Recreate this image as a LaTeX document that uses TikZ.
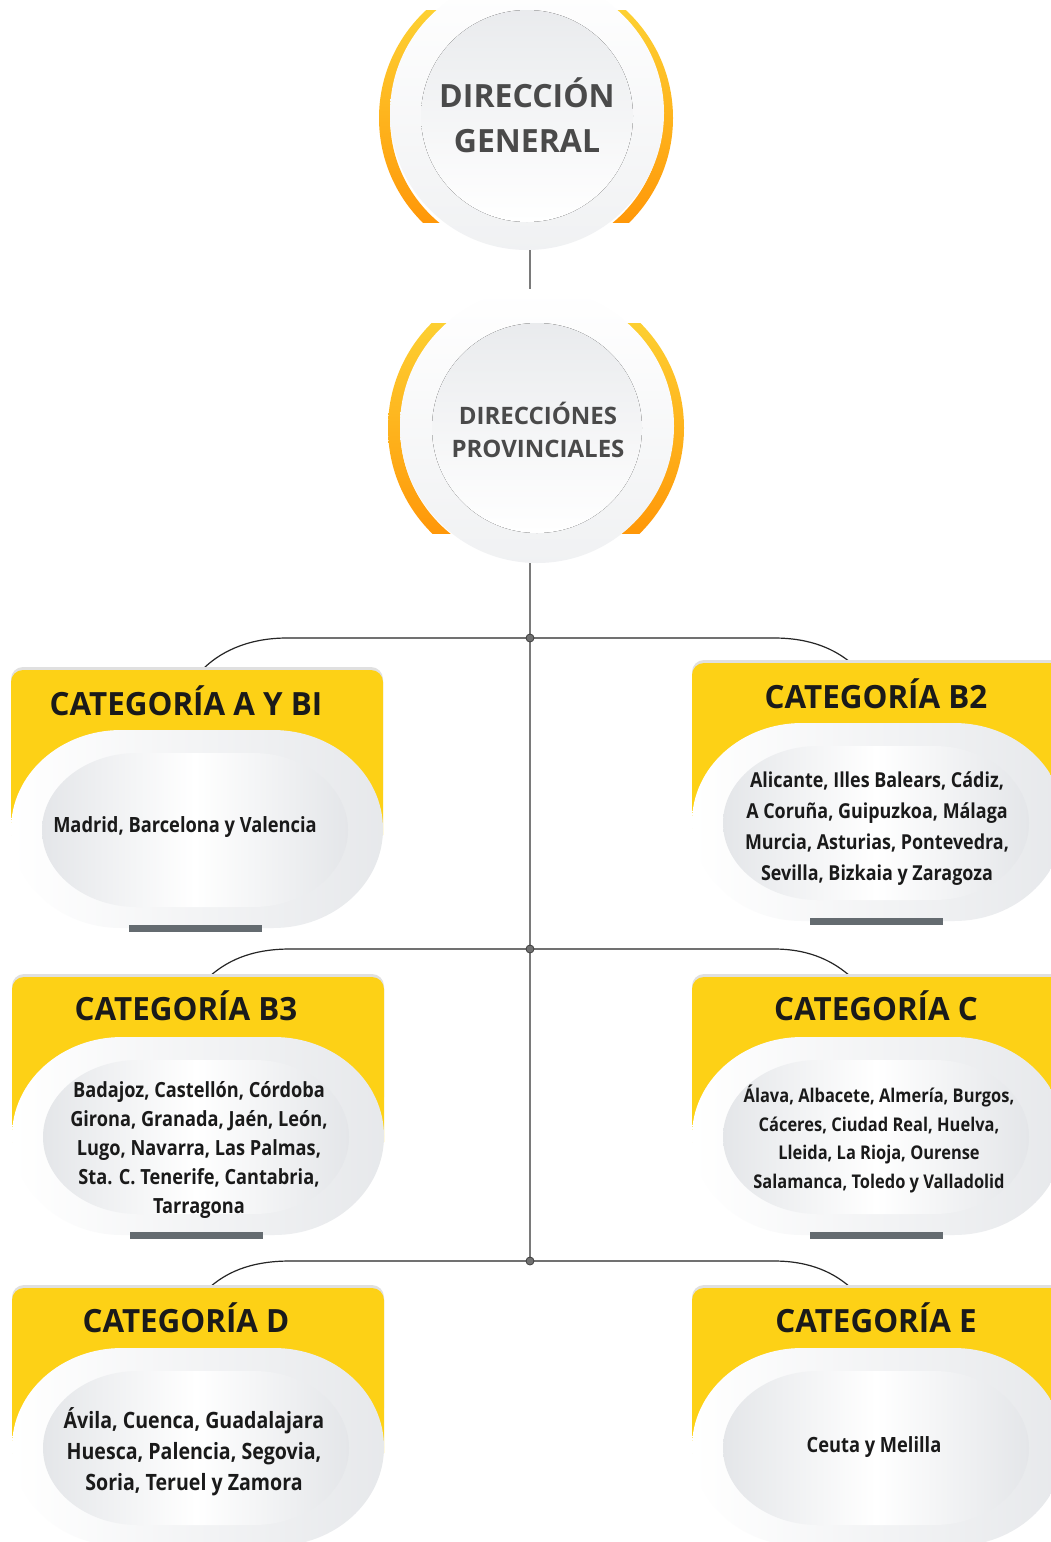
\documentclass[tikz,border=0pt]{standalone}
\usepackage{fontspec}
\setmainfont{Open Sans}
\newfontfamily\tfont{Open Sans}[FakeStretch=0.98]
\newfontfamily\bfont{Open Sans}[FakeStretch=0.87]
\usetikzlibrary{calc}
\definecolor{ybox}{HTML}{FDD116}
\definecolor{ringT}{HTML}{FDDB3A}
\definecolor{ringB}{HTML}{FF8C00}
\definecolor{dgray}{HTML}{4A4A4A}
\definecolor{txt}{HTML}{1A1A1A}
\definecolor{pale}{HTML}{E4E6E9}
\definecolor{barc}{HTML}{646B70}
\definecolor{trunkc}{HTML}{7A7A7A}
\definecolor{dotc}{HTML}{707070}
\tikzset{
  cattitle/.style={font=\tfont\bfseries\fontsize{32}{36}\selectfont, text=txt, inner sep=0, anchor=base},
  catbody/.style={font=\bfont\bfseries\fontsize{21}{31}\selectfont, text=txt, align=center, inner sep=0, anchor=base},
  link/.style={draw=black!85, line width=1.2pt},
  trunk/.style={draw=trunkc, line width=1.8pt},
  jdot/.style={circle, fill=dotc, draw=black!75, line width=0.8pt, minimum size=8pt, inner sep=0},
  outerdisc/.style={circle, minimum size=274pt, inner sep=0, top color=white, bottom color=pale!55},
  innerdisc/.style={top color=pale!80, bottom color=white},
}
\newcommand\catbox[2]{%
\begin{scope}[shift={(#1,#2)}]
  \fill[black!12] (0,120) -- (0,9) arc[start angle=180,end angle=270,radius=12] -- (360,-3) arc[start angle=270,end angle=360,radius=12] -- (372,120) -- cycle;
  \fill[ybox] (0,165) -- (0,12) arc[start angle=180,end angle=270,radius=12] -- (360,0) arc[start angle=270,end angle=360,radius=12] -- (372,165) -- cycle;
  \path[left color=white, right color=pale!90]
    (0,159) arc[start angle=180,end angle=270,x radius=110,y radius=99] -- (262,60)
    arc[start angle=270,end angle=360,x radius=110,y radius=99]
    arc[start angle=0,end angle=90,x radius=110,y radius=99] -- (110,258)
    arc[start angle=90,end angle=180,x radius=110,y radius=99] -- cycle;
  \path[left color=pale, right color=pale, middle color=white]
    (31,160) arc[start angle=180,end angle=270,x radius=95,y radius=77] -- (242,83)
    arc[start angle=270,end angle=360,x radius=95,y radius=77]
    arc[start angle=0,end angle=90,x radius=95,y radius=77] -- (126,237)
    arc[start angle=90,end angle=180,x radius=95,y radius=77] -- cycle;
  \fill[barc] (118,255) rectangle (251,262);
\end{scope}}
\begin{document}
\begin{tikzpicture}[x=1pt,y=-1pt]
\path[use as bounding box] (0,0) rectangle (1051,1542);
\clip (0,0) rectangle (1051,1542);
\fill[white] (0,0) rectangle (1051,1542);

% junctions
\coordinate (j1) at (530,638);
\coordinate (j2) at (530,949);
\coordinate (j3) at (530,1261);

% ---- top circle
\begin{scope}
  \clip (300,10) rectangle (760,222);
  \path[top color=ringT, bottom color=ringB, even odd rule] (526,118) circle[radius=147] (526,118) circle[radius=136];
\end{scope}
\node[outerdisc] (dg) at (527,113) {};
\fill[innerdisc] (527,116) circle[radius=106];
\node[align=center, font=\bfseries\fontsize{32}{45}\selectfont, text=dgray, inner sep=0] (dgt) at (527,115) {DIRECCIÓN\\GENERAL};

% ---- second circle
\begin{scope}
  \clip (300,323) rectangle (760,533);
  \path[top color=ringT, bottom color=ringB, even odd rule] (536,428) circle[radius=148] (536,428) circle[radius=136];
\end{scope}
\node[outerdisc] (dp) at (537,426) {};
\fill[innerdisc] (537,428) circle[radius=105];
\node[align=center, font=\bfseries\fontsize{24}{33}\selectfont, text=dgray, inner sep=0] (dpt) at (538,430) {DIRECCIÓNES\\PROVINCIALES};

% ---- trunk
\draw[trunk] (dg.south -| j1) -- (dp.north -| j1);
\draw[trunk] (dp.south -| j1) -- (j3);

% ---- branch coordinates
\coordinate (h1l) at (287,638); \coordinate (h1r) at (774,638);
\coordinate (h2l) at (290,949); \coordinate (h2r) at (774,949);
\coordinate (h3l) at (290,1261); \coordinate (h3r) at (774,1261);
\coordinate (Ain) at (203,669); \coordinate (B2in) at (850,662);
\coordinate (B3in) at (210,976); \coordinate (Cin) at (850,976);
\coordinate (Din) at (210,1287); \coordinate (Ein) at (850,1287);

\draw[link] (j1) -- (h1l) .. controls +(-42,0) and +(15,-15) .. (Ain);
\draw[link] (j1) -- (h1r) .. controls +(38,0) and +(-15,-12) .. (B2in);
\draw[link] (j2) -- (h2l) .. controls +(-42,0) and +(15,-13) .. (B3in);
\draw[link] (j2) -- (h2r) .. controls +(38,0) and +(-15,-13) .. (Cin);
\draw[link] (j3) -- (h3l) .. controls +(-42,0) and +(15,-13) .. (Din);
\draw[link] (j3) -- (h3r) .. controls +(38,0) and +(-15,-13) .. (Ein);

\node[jdot] at (j1) {};
\node[jdot] at (j2) {};
\node[jdot] at (j3) {};

% ---- boxes
\catbox{11}{670}
\catbox{692}{663}
\catbox{12}{977}
\catbox{692}{977}
\catbox{12}{1288}
\catbox{692}{1288}

% ---- titles
\node[cattitle] (tA) at (186,715) {CATEGORÍA A Y BI};
\node[cattitle] (tB2) at (876,708) {CATEGORÍA B2};
\node[cattitle] (tB3) at (186,1020) {CATEGORÍA B3};
\node[cattitle] (tC) at (876,1020) {CATEGORÍA C};
\node[cattitle] (tD) at (186,1332) {CATEGORÍA D};
\node[cattitle] (tE) at (876,1332) {CATEGORÍA E};

% ---- bodies (base anchor = baseline of last line)
\node[catbody] (bA) at (185,832) {Madrid, Barcelona y Valencia};
\node[catbody, font=\bfont\bfseries\fontsize{20.6}{31}\selectfont] (bB2) at (877,880) {Alicante, Illes Balears, Cádiz,\\A Coruña, Guipuzkoa, Málaga\\Murcia, Asturias, Pontevedra,\\Sevilla, Bizkaia y Zaragoza};
\node[catbody, font=\bfont\bfseries\fontsize{20.9}{29}\selectfont] (bB3) at (199,1213) {Badajoz, Castellón, Córdoba\\Girona, Granada, Jaén, León,\\Lugo, Navarra, Las Palmas,\\Sta. C. Tenerife, Cantabria,\\Tarragona};
\node[catbody, font=\bfont\bfseries\fontsize{18.9}{28.5}\selectfont] (bC) at (879,1188) {Álava, Albacete, Almería, Burgos,\\Cáceres, Ciudad Real, Huelva,\\Lleida, La Rioja, Ourense\\Salamanca, Toledo y Valladolid};
\node[catbody, font=\bfont\bfseries\fontsize{22.5}{31}\selectfont] (bD) at (194,1490) {Ávila, Cuenca, Guadalajara\\Huesca, Palencia, Segovia,\\Soria, Teruel y Zamora};
\node[catbody, font=\bfont\bfseries\fontsize{21}{28}\selectfont] (bE) at (874,1452) {Ceuta y Melilla};
\end{tikzpicture}
\end{document}
